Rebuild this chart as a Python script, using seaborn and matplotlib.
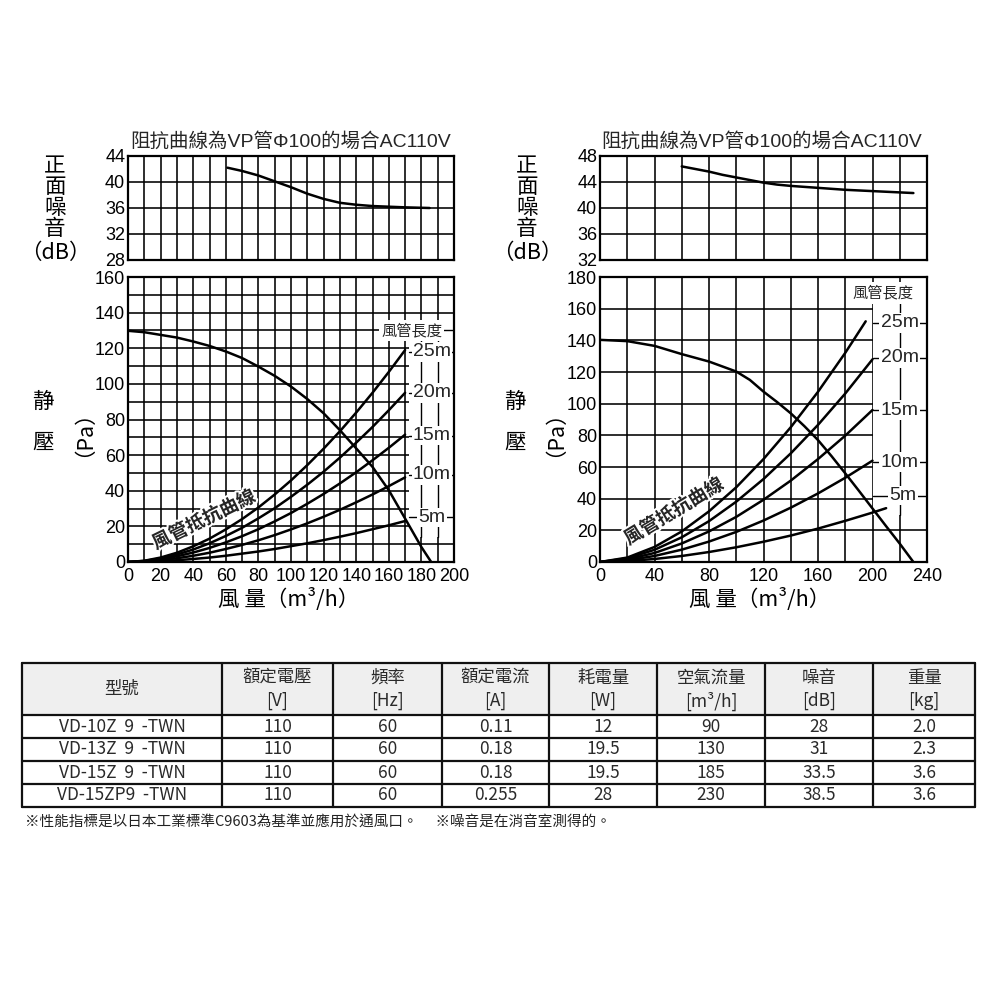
import numpy as np
import pandas as pd
import matplotlib
matplotlib.use("Agg")
import matplotlib.pyplot as plt
import seaborn as sns
from matplotlib.patches import Rectangle
import matplotlib.patheffects as pe

sns.set_theme(style="white")
plt.rcParams['font.family'] = ['Liberation Sans', 'Noto Sans CJK TC', 'DejaVu Sans']

LAT = ['Liberation Sans', 'Noto Sans CJK TC', 'DejaVu Sans']
CJK = ['Noto Sans CJK TC', 'DejaVu Sans']

# ---------------- data ----------------
title_text = "阻抗曲線為VP管Φ100的場合AC110V"

# left chart
L_noise_x = [61, 70, 80, 90, 100, 110, 120, 130, 140, 150, 160, 170, 185]
L_noise_y = [42.2, 41.7, 41.0, 40.1, 39.2, 38.2, 37.4, 36.8, 36.5, 36.3, 36.2, 36.1, 36.0]
L_pq_x = [0, 10, 20, 30, 40, 50, 60, 70, 80, 90, 100, 110, 120, 130, 140, 150, 160, 170, 180, 186]
L_pq_y = [129.8, 129.0, 127.5, 126.0, 123.8, 121.3, 118.2, 114.5, 109.7, 104.5, 98.5, 91.5,
          83.5, 74.0, 63.8, 53.4, 40.3, 24.4, 8.4, 0]
L_duct_x = [0, 10, 20, 30, 40, 50, 60, 70, 80, 90, 100, 110, 120, 130, 140, 150, 160, 170]
L_duct_25 = [0, 0.7, 2.5, 5.2, 8.8, 13.1, 18.3, 24.1, 30.6, 37.9, 45.8, 54.4, 63.6, 73.4, 83.9, 95.0, 106.7, 119.0]
L_duct_20 = [0, 0.6, 2.0, 4.2, 7.0, 10.5, 14.6, 19.2, 24.5, 30.2, 36.6, 43.4, 50.7, 58.6, 67.0, 75.8, 85.2, 95.0]
L_duct_15 = [0, 0.4, 1.5, 3.2, 5.3, 7.9, 11.0, 14.5, 18.4, 22.8, 27.5, 32.7, 38.2, 44.1, 50.4, 57.1, 64.1, 71.5]
L_duct_10 = [0, 0.3, 1.0, 2.1, 3.5, 5.2, 7.3, 9.6, 12.2, 15.1, 18.3, 21.7, 25.4, 29.3, 33.5, 37.9, 42.6, 47.5]
L_duct_5 = [0, 0.1, 0.5, 1.0, 1.7, 2.5, 3.5, 4.7, 5.9, 7.3, 8.9, 10.5, 12.3, 14.2, 16.2, 18.4, 20.6, 23.0]
L_labels = ["25m", "20m", "15m", "10m", "5m"]
L_label_y = [118, 95, 71, 49, 25]

# right chart
R_noise_x = [60, 70, 80, 90, 100, 110, 120, 130, 140, 150, 160, 170, 180, 190, 200, 215, 230]
R_noise_y = [46.4, 46.0, 45.6, 45.1, 44.7, 44.3, 43.9, 43.6, 43.4, 43.25, 43.1, 42.95, 42.8,
             42.7, 42.6, 42.45, 42.3]
R_pq_x = [0, 20, 40, 60, 80, 100, 110, 120, 130, 140, 150, 160, 170, 180, 190, 200, 210, 220, 230]
R_pq_y = [140.3, 139.5, 136.5, 131.3, 126.6, 120.3, 115.0, 107.6, 101.0, 93.9, 85.8, 77.0,
          66.8, 56.0, 45.0, 33.8, 22.6, 11.6, 0]
R_duct25_x = [0, 20, 40, 60, 80, 100, 120, 140, 160, 180, 195]
R_duct25_y = [0, 2.8, 9.5, 19.3, 32.0, 47.2, 65.0, 85.1, 107.5, 132.1, 152.0]
R_duct_x = [0, 20, 40, 60, 80, 100, 120, 140, 160, 180, 200]
R_duct20_y = [0, 2.3, 7.7, 15.6, 25.8, 38.1, 52.4, 68.6, 86.6, 106.4, 128.0]
R_duct15_y = [0, 1.7, 5.7, 11.7, 19.3, 28.5, 39.3, 51.4, 65.0, 79.8, 96.0]
R_duct10_y = [0, 1.1, 3.8, 7.8, 12.9, 19.0, 26.2, 34.3, 43.3, 53.2, 64.0]
R_duct5_x = [0, 20, 40, 60, 80, 100, 120, 140, 160, 180, 200, 210]
R_duct5_y = [0, 0.6, 1.9, 3.8, 6.3, 9.3, 12.8, 16.7, 21.1, 26.0, 31.2, 34.0]
R_label_y = [151, 129, 96, 63, 42]

# table
tbl_headers = ["型號", "額定電壓", "頻率", "額定電流", "耗電量", "空氣流量", "噪音", "重量"]
tbl_units = ["", "[V]", "[Hz]", "[A]", "[W]", "[m³/h]", "[dB]", "[kg]"]
tbl_models = ["VD-10Z  9  -TWN", "VD-13Z  9  -TWN", "VD-15Z  9  -TWN", "VD-15ZP9  -TWN"]
tbl_voltage = ["110", "110", "110", "110"]
tbl_freq = ["60", "60", "60", "60"]
tbl_current = ["0.11", "0.18", "0.18", "0.255"]
tbl_power = ["12", "19.5", "19.5", "28"]
tbl_flow = ["90", "130", "185", "230"]
tbl_noise = ["28", "31", "33.5", "38.5"]
tbl_weight = ["2.0", "2.3", "3.6", "3.6"]
footnote = "※性能指標是以日本工業標準C9603為基準並應用於通風口。　 ※噪音是在消音室測得的。"

# ---------------- figure ----------------
fig = plt.figure(figsize=(10, 10), dpi=100)
fig.patch.set_facecolor("white")

axt = fig.add_axes([0, 0, 1, 1])
axt.set_xlim(0, 1000)
axt.set_ylim(1000, 0)
axt.axis("off")

col_edges = [22, 222, 333, 442, 549, 657, 765, 873, 975]
row_edges = [663, 715, 738, 761, 784, 807]
axt.add_patch(Rectangle((col_edges[0], row_edges[0]), col_edges[-1] - col_edges[0],
                        row_edges[1] - row_edges[0], facecolor="#efefef", edgecolor="none"))
for xe in col_edges:
    axt.plot([xe, xe], [row_edges[0], row_edges[-1]], color="#111111", lw=1.6)
for ye in row_edges:
    axt.plot([col_edges[0], col_edges[-1]], [ye, ye], color="#111111", lw=1.6)
tfont = dict(family=CJK, color="#2a2a2a", fontsize=12.5, fontweight="light")
centers = [(col_edges[i] + col_edges[i + 1]) / 2 for i in range(len(col_edges) - 1)]
for i, (h, u) in enumerate(zip(tbl_headers, tbl_units)):
    if u:
        axt.text(centers[i], 678, h, ha="center", va="center", **tfont)
        axt.text(centers[i], 701, u, ha="center", va="center", **tfont)
    else:
        axt.text(centers[i], 689, h, ha="center", va="center", **tfont)
cols = [tbl_models, tbl_voltage, tbl_freq, tbl_current, tbl_power, tbl_flow, tbl_noise, tbl_weight]
for ci, colvals in enumerate(cols):
    for ri, v in enumerate(colvals):
        yc = (row_edges[ri + 1] + row_edges[ri + 2]) / 2
        axt.text(centers[ci], yc, v, ha="center", va="center", **tfont)
axt.text(25, 822, footnote, ha="left", va="center", family=CJK, fontweight="light",
         fontsize=10.5, color="#222222")


def px(x, y):
    return x / 1000, 1 - y / 1000


def style_axes(ax, xmax, xmaj, xminr, ylo, yhi, ymaj, yminr, show_x=True):
    ax.set_xlim(0, xmax)
    ax.set_ylim(ylo, yhi)
    ax.set_xticks(np.arange(0, xmax + 0.1, xmaj))
    ax.set_xticks(np.arange(0, xmax + 0.1, xminr), minor=True)
    ax.set_yticks(np.arange(ylo, yhi + 0.1, ymaj))
    ax.set_yticks(np.arange(ylo, yhi + 0.1, yminr), minor=True)
    ax.set_axisbelow(True)
    ax.grid(which="both", color="black", lw=1.15)
    ax.tick_params(which="both", length=0, labelsize=13, colors="black")
    ax.tick_params(axis="y", pad=2)
    ax.tick_params(axis="x", pad=4)
    if not show_x:
        ax.set_xticklabels([])
    for lbl in ax.get_xticklabels() + ax.get_yticklabels():
        lbl.set_family(LAT)
    for s in ax.spines.values():
        s.set_color("black")
        s.set_linewidth(1.6)
    ax.set_xlabel("")
    ax.set_ylabel("")


def line(ax, x, y, lw=1.8):
    sns.lineplot(x=x, y=y, ax=ax, color="black", lw=lw, zorder=3, legend=False)


lab_font = dict(family=CJK, fontsize=15.5, color="black")

for side in ["L", "R"]:
    if side == "L":
        x0, w = 128, 326
        xmax, xmaj, xminr = 200, 20, 10
        nlo, nhi = 28, 44
        pmax, pmaj, pminr = 160, 20, 10
    else:
        x0, w = 600, 327
        xmax, xmaj, xminr = 240, 40, 20
        nlo, nhi = 32, 48
        pmax, pmaj, pminr = 180, 20, 20

    axn = fig.add_axes([x0 / 1000, 1 - 260 / 1000, w / 1000, 104 / 1000])
    axp = fig.add_axes([x0 / 1000, 1 - 562 / 1000, w / 1000, 285 / 1000])
    style_axes(axn, xmax, xminr, xminr, nlo, nhi, 4, 4, show_x=False)
    style_axes(axp, xmax, xmaj, xminr, 0, pmax, pmaj, pminr)

    if side == "L":
        line(axn, L_noise_x, L_noise_y)
        line(axp, L_pq_x, L_pq_y)
        for yy in [L_duct_25, L_duct_20, L_duct_15, L_duct_10, L_duct_5]:
            line(axp, L_duct_x, yy)
        axp.add_patch(Rectangle((172.6, 14), 26.8, 121, facecolor="white", edgecolor="none", zorder=1))
        for vx in [180, 190]:
            axp.plot([vx, vx], [14, 135], color="black", lw=1.0, zorder=1.5)
        for ly in L_label_y + [130]:
            axp.plot([172.6, 199.4], [ly, ly], color="black", lw=1.0, zorder=1.5)
        axp.text(174, 130, "風管長度", ha="center", va="center", fontsize=11,
                 family=CJK, zorder=4,
                 bbox=dict(facecolor="white", edgecolor="none", pad=1.5))
        for t, ly in zip(L_labels, L_label_y):
            axp.text(186.5, ly, t, ha="center", va="center", fontsize=14, zorder=4,
                     family=LAT, bbox=dict(facecolor="white", edgecolor="none", pad=1))
        axp.text(46.6, 23.6, "風管抵抗曲線", rotation=26, rotation_mode="anchor", ha="center",
                 va="center", fontsize=13.5, fontweight="bold", zorder=5, family=CJK,
                 path_effects=[pe.withStroke(linewidth=3, foreground="white")])
        tx = 291
        yl_x, st_x, pa_x = 55, 43, 73
    else:
        line(axn, R_noise_x, R_noise_y)
        line(axp, R_pq_x, R_pq_y)
        line(axp, R_duct25_x, R_duct25_y)
        for yy in [R_duct20_y, R_duct15_y, R_duct10_y]:
            line(axp, R_duct_x, yy)
        line(axp, R_duct5_x, R_duct5_y)
        axp.add_patch(Rectangle((200.6, 30), 38.8, 135, facecolor="white", edgecolor="none", zorder=1))
        axp.plot([220, 220], [30, 165], color="black", lw=1.0, zorder=1.5)
        for ly in R_label_y:
            axp.plot([200.6, 239.4], [ly, ly], color="black", lw=1.0, zorder=1.5)
        axp.text(208, 170, "風管長度", ha="center", va="center", fontsize=11,
                 family=CJK, zorder=4,
                 bbox=dict(facecolor="white", edgecolor="none", pad=2))
        for t, ly in zip(L_labels, R_label_y):
            xx = 222.5 if t == "5m" else 220
            axp.text(xx, ly, t, ha="center", va="center", fontsize=14, zorder=4,
                     family=LAT, bbox=dict(facecolor="white", edgecolor="none", pad=1))
        axp.text(54.3, 31.8, "風管抵抗曲線", rotation=31, rotation_mode="anchor", ha="center",
                 va="center", fontsize=13.5, fontweight="bold", zorder=5, family=CJK,
                 path_effects=[pe.withStroke(linewidth=3, foreground="white")])
        tx = 762
        yl_x, st_x, pa_x = 527, 515, 544

    fig.text(*px(tx, 141), title_text, ha="center", va="center", fontsize=14, family=LAT)
    for ch, yy in zip("正面噪音", [166, 187, 208, 229]):
        fig.text(*px(yl_x, yy), ch, ha="center", va="center", **lab_font)
    fig.text(*px(yl_x, 253), "（dB）", ha="center", va="center", **lab_font)
    fig.text(*px(st_x, 402), "静", ha="center", va="center", **lab_font)
    fig.text(*px(st_x, 443), "壓", ha="center", va="center", **lab_font)
    fig.text(*px(pa_x, 423), "（Pa）", ha="center", va="center", rotation=90, **lab_font)
    fig.text(*px(tx - 2, 600), "風 量（m³/h）", ha="center", va="center", **lab_font)

fig.savefig("out.png", dpi=100, facecolor="white")
